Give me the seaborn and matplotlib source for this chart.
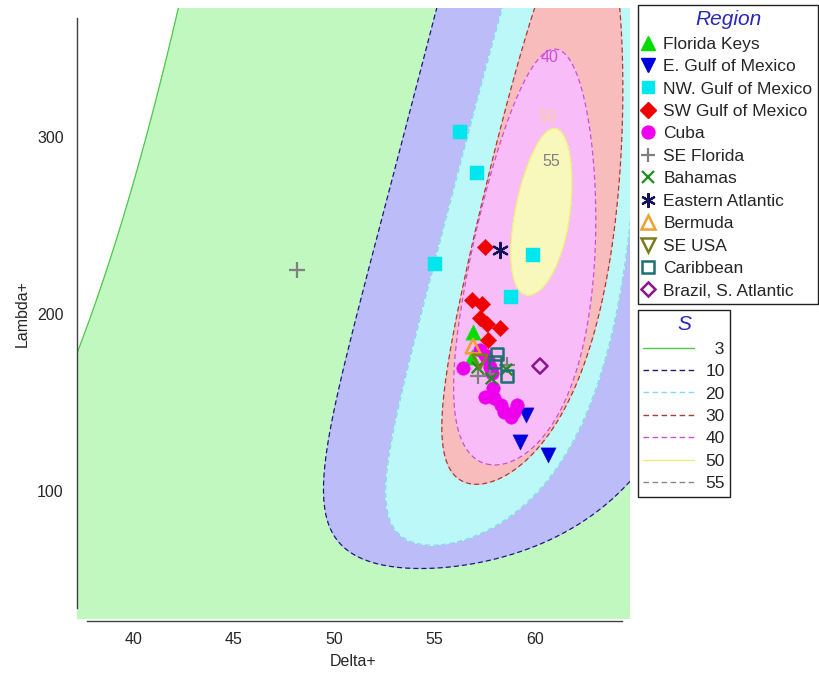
import numpy as np
import pandas as pd
import matplotlib
matplotlib.use("Agg")
import matplotlib.pyplot as plt
from matplotlib.lines import Line2D
import seaborn as sns

# ---------------- samples: Delta+ / Lambda+ by region ----------------
florida_keys_delta = [56.92, 56.87]
florida_keys_lambda = [189.8, 175.7]
e_gulf_delta = [59.55, 59.25, 60.65]
e_gulf_lambda = [142.9, 127.7, 120.3]
nw_gulf_delta = [56.27, 57.10, 55.02, 59.92, 58.81]
nw_gulf_lambda = [303.0, 279.5, 228.2, 233.3, 209.8]
sw_gulf_delta = [57.51, 56.87, 57.36, 57.26, 57.61, 58.26, 57.66]
sw_gulf_lambda = [237.9, 207.9, 205.6, 197.7, 194.4, 192.1, 185.3]
cuba_delta = [56.42, 57.26, 57.51, 57.66, 57.76, 57.86, 57.91, 57.51, 57.96, 58.31, 58.46, 58.81, 59.10, 58.96]
cuba_lambda = [169.5, 179.7, 176.8, 174.0, 170.1, 166.7, 158.2, 153.1, 152.5, 148.6, 144.6, 141.8, 148.6, 144.6]
se_florida_delta = [48.16, 57.16, 57.76, 58.61]
se_florida_lambda = [224.9, 165.0, 166.1, 171.2]
bahamas_delta = [57.11, 57.81, 58.56]
bahamas_lambda = [170.1, 163.8, 168.9]
e_atlantic_delta = [58.26]
e_atlantic_lambda = [236.2]
bermuda_delta = [56.92]
bermuda_lambda = [181.9]
se_usa_delta = [57.26]
se_usa_lambda = [172.9]
caribbean_delta = [58.11, 58.61, 58.01]
caribbean_lambda = [177.4, 165.0, 172.9]
brazil_delta = [60.25]
brazil_lambda = [170.6]

region_names = ["Florida Keys", "E. Gulf of Mexico", "NW. Gulf of Mexico", "SW Gulf of Mexico",
                "Cuba", "SE Florida", "Bahamas", "Eastern Atlantic", "Bermuda", "SE USA",
                "Caribbean", "Brazil, S. Atlantic"]
region_delta = [florida_keys_delta, e_gulf_delta, nw_gulf_delta, sw_gulf_delta, cuba_delta,
                se_florida_delta, bahamas_delta, e_atlantic_delta, bermuda_delta, se_usa_delta,
                caribbean_delta, brazil_delta]
region_lambda = [florida_keys_lambda, e_gulf_lambda, nw_gulf_lambda, sw_gulf_lambda, cuba_lambda,
                 se_florida_lambda, bahamas_lambda, e_atlantic_lambda, bermuda_lambda, se_usa_lambda,
                 caribbean_lambda, brazil_lambda]

# ---------- 95% probability regions for random sub-lists of S species ----------
# (Delta+ and log Lambda+ treated as bivariate normal)
sublist_sizes = [3, 10, 20, 30, 40, 50]
delta_mean = [59.89, 59.89, 58.85, 59.87, 59.49, 60.32]
lambda_geo_mean = [73.9, 197.6, 183.9, 211.1, 200.3, 253.4]
delta_sd = [13.19, 4.2545, 2.564, 1.84, 1.4451, 0.6223]
log_lambda_sd = [1.592, 0.5135, 0.398, 0.29, 0.2276, 0.0756]
delta_lambda_corr = [0.535, 0.535, 0.632, 0.618, 0.422, 0.421]
legend_sizes = ["3", "10", "20", "30", "40", "50", "55"]

# ---------------- styling ----------------
region_style = {
    "Florida Keys":        dict(marker="^", color="#00dd00", hollow=False, s=120),
    "E. Gulf of Mexico":   dict(marker="v", color="#0000dd", hollow=False, s=120),
    "NW. Gulf of Mexico":  dict(marker="s", color="#00e6ee", hollow=False, s=90),
    "SW Gulf of Mexico":   dict(marker="D", color="#ee0000", hollow=False, s=70),
    "Cuba":                dict(marker="o", color="#ee00ee", hollow=False, s=95),
    "SE Florida":          dict(marker="+", color="#808080", hollow=False, s=120),
    "Bahamas":             dict(marker="x", color="#1e8c1e", hollow=False, s=70),
    "Eastern Atlantic":    dict(marker=(6, 2, 0), color="#14145a", hollow=False, s=120),
    "Bermuda":             dict(marker="^", color="#f0a030", hollow=True, s=110),
    "SE USA":              dict(marker="v", color="#7c7c1c", hollow=True, s=110),
    "Caribbean":           dict(marker="s", color="#1e7070", hollow=True, s=75),
    "Brazil, S. Atlantic": dict(marker="D", color="#8c148c", hollow=True, s=60),
}
fill_colors = ["#c0f8c0", "#bcbcf8", "#bcf8f8", "#f8bcbc", "#f8bcf8", "#f8f8bc"]
edge_colors = ["#50c850", "#1c1c78", "#80dce6", "#a83c3c", "#cc50cc", "#f0ec80", "#888888"]
edge_styles = ["-", (0, (4, 2.5)), (0, (4, 2.5)), (0, (4, 2.5)), (0, (4, 2.5)), "-", (0, (4, 2.5))]
title_color = "#2828b4"
ink = "#262626"

sns.set_style("white")
plt.rcParams["font.family"] = ["Liberation Sans", "DejaVu Sans"]

W, H = 820, 675
fig = plt.figure(figsize=(W / 100, H / 100), dpi=100)
ax = fig.add_axes([77 / W, 1 - 619 / H, (630 - 77) / W, (619 - 8) / H])
ax.set_xlim(37.21, 64.73)
ax.set_ylim(27.7, 372.9)

# probability regions: fills first, then boundaries on top
gx = np.linspace(37.0, 65.0, 700)
gy = np.linspace(20.0, 380.0, 900)
GX, GY = np.meshgrid(gx, gy)
CHI2_95 = 5.991
fields = []
for mx, gm, sx, sl, r in zip(delta_mean, lambda_geo_mean, delta_sd, log_lambda_sd, delta_lambda_corr):
    u = (GX - mx) / sx
    v = (np.log(GY) - np.log(gm)) / sl
    fields.append((u * u - 2 * r * u * v + v * v) / (1 - r * r))
for f, fc in zip(fields, fill_colors):
    ax.contourf(GX, GY, f, levels=[-1, CHI2_95], colors=[fc], zorder=1)
for f, ec, ls in zip(fields, edge_colors, edge_styles):
    ax.contour(GX, GY, f, levels=[CHI2_95], colors=[ec], linewidths=0.9,
               linestyles=[ls], zorder=2)

ax.text(60.75, 345, "40", color="#cc50cc", fontsize=11.5, ha="center", va="center", zorder=2)
ax.text(60.6, 311, "50", color="#f4d49c", fontsize=11.5, ha="center", va="center", zorder=2)
ax.text(60.8, 286, "55", color="#808080", fontsize=11.5, ha="center", va="center", zorder=2)

# samples
frame = pd.DataFrame({
    "Region": np.repeat(region_names, [len(d) for d in region_delta]),
    "Delta+": np.concatenate(region_delta),
    "Lambda+": np.concatenate(region_lambda),
})
for name in region_names:
    st = region_style[name]
    sub = frame[frame["Region"] == name]
    kw = dict(marker=st["marker"], s=st["s"], zorder=3, legend=False)
    if st["hollow"]:
        kw.update(facecolor="none", edgecolor=st["color"], linewidth=1.8)
    elif st["marker"] in ("+", "x") or isinstance(st["marker"], tuple):
        kw.update(color=st["color"], linewidth=1.6)
    else:
        kw.update(color=st["color"], edgecolor=st["color"], linewidth=0.3)
    sns.scatterplot(data=sub, x="Delta+", y="Lambda+", ax=ax, **kw)

# axes
ax.set_xticks([40, 45, 50, 55, 60])
ax.set_yticks([100, 200, 300])
for side in ("top", "right"):
    ax.spines[side].set_visible(False)
ax.spines["left"].set_bounds(34, 367)
ax.spines["bottom"].set_bounds(37.7, 64.35)
ax.spines["bottom"].set_position(("outward", 1.5))
for side in ("left", "bottom"):
    ax.spines[side].set_color("#404040")
    ax.spines[side].set_linewidth(1.0)
ax.tick_params(axis="y", direction="inout", length=13, width=1, color="#404040",
               labelsize=11.5, labelcolor=ink, pad=3)
ax.tick_params(axis="x", direction="out", length=6.5, width=1, color="#404040",
               labelsize=11.5, labelcolor=ink, pad=1.5)
ax.set_xlabel("Delta+", fontsize=11.5, color=ink, labelpad=5)
ax.set_ylabel("Lambda+", fontsize=11.5, color=ink, labelpad=5)
ax.set_facecolor("white")

# legends
region_handles = []
for name in region_names:
    st = region_style[name]
    ms = np.sqrt(st["s"]) * 0.95
    if st["hollow"]:
        h = Line2D([], [], linestyle="none", marker=st["marker"], markersize=ms,
                   markerfacecolor="none", markeredgecolor=st["color"], markeredgewidth=1.8)
    elif st["marker"] in ("+", "x") or isinstance(st["marker"], tuple):
        h = Line2D([], [], linestyle="none", marker=st["marker"], markersize=ms,
                   color=st["color"], markeredgewidth=1.6)
    else:
        h = Line2D([], [], linestyle="none", marker=st["marker"], markersize=ms,
                   color=st["color"], markeredgecolor=st["color"])
    region_handles.append(h)

LEG_FS = 12.5
leg1 = fig.legend(region_handles, region_names, loc="upper left",
                  bbox_to_anchor=(638 / W, 1 - 5 / H, 180 / W, 0.0), mode="expand",
                  frameon=True, fancybox=False, edgecolor="#202020", framealpha=1,
                  fontsize=LEG_FS, labelspacing=0.42, handlelength=0.6, handletextpad=0.55,
                  borderpad=0.3, borderaxespad=0, title="Region",
                  title_fontproperties={"size": 15, "style": "italic"})
leg1.get_title().set_color(title_color)
leg1.get_frame().set_linewidth(1.0)
for t in leg1.get_texts():
    t.set_color(ink)

size_handles = [Line2D([], [], color=c, linestyle=ls, linewidth=1.0)
                for c, ls in zip(edge_colors, edge_styles)]
size_labels = [("  " + s) if len(s) == 1 else s for s in legend_sizes]
leg2 = fig.legend(size_handles, size_labels, loc="upper left",
                  bbox_to_anchor=(638 / W, 1 - 310 / H, 92 / W, 0.0), mode="expand",
                  frameon=True, fancybox=False, edgecolor="#202020", framealpha=1,
                  fontsize=LEG_FS, labelspacing=0.42, handlelength=2.95, handletextpad=0.62,
                  borderpad=0.3, borderaxespad=0, title="S",
                  title_fontproperties={"size": 15, "style": "italic"})
leg2.get_title().set_color(title_color)
leg2.get_frame().set_linewidth(1.0)
for t in leg2.get_texts():
    t.set_color(ink)

fig.savefig("out.png", dpi=100, facecolor="white")
